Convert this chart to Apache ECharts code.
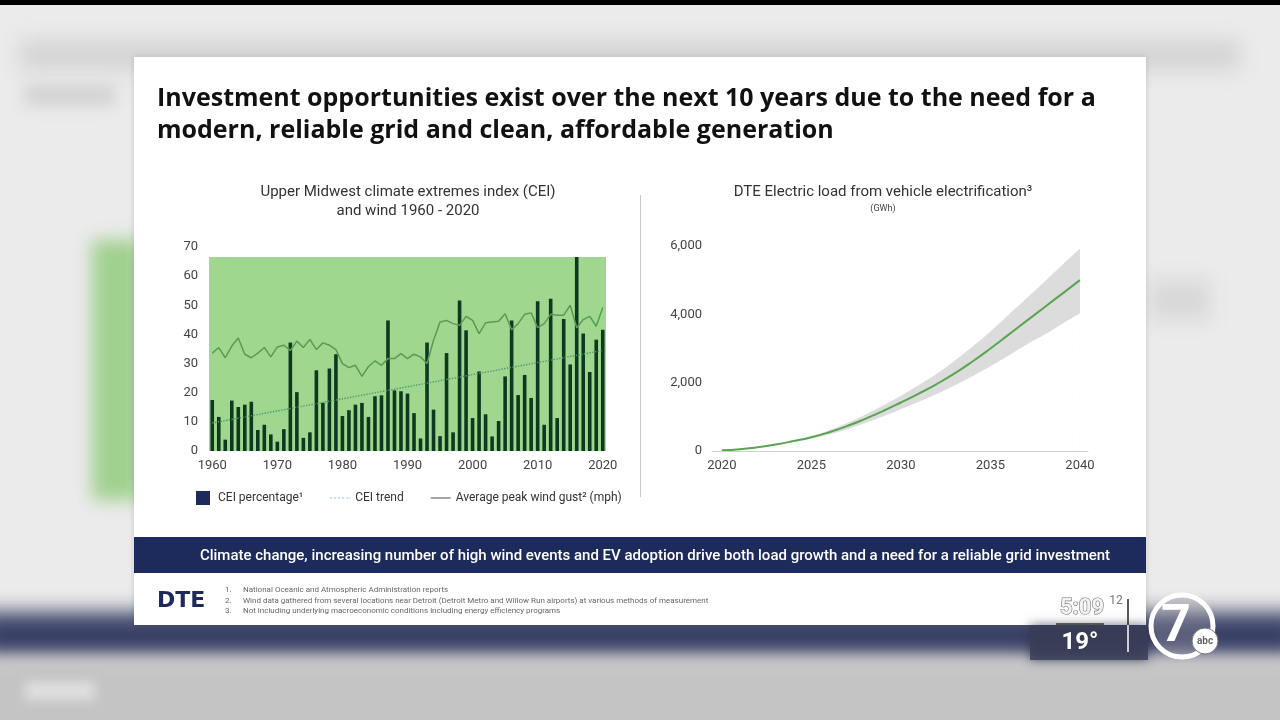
<!DOCTYPE html>
<html><head><meta charset="utf-8">
<script src="https://cdn.jsdelivr.net/npm/echarts@6/dist/echarts.min.js"></script>
<style>
html,body{margin:0;padding:0;width:1280px;height:720px;overflow:hidden;background:#ebebeb;}
.bl{position:absolute;}
#chart{position:absolute;left:0;top:0;width:1280px;height:720px;}
</style></head><body>
<div class="bl" style="left:20px;top:40px;width:1220px;height:30px;background:#d4d4d4;filter:blur(10px);"></div>
<div class="bl" style="left:25px;top:85px;width:90px;height:20px;background:#d0d0d0;filter:blur(8px);"></div>
<div class="bl" style="left:92px;top:240px;width:50px;height:260px;background:#9fd08e;filter:blur(9px);"></div>
<div class="bl" style="left:1150px;top:280px;width:60px;height:40px;background:#d8d8d8;filter:blur(10px);"></div>
<div class="bl" style="left:-20px;top:612px;width:1320px;height:46px;background:#3a4166;filter:blur(10px);"></div>
<div class="bl" style="left:-20px;top:658px;width:1320px;height:80px;background:#c4c4c4;filter:blur(8px);"></div>
<div class="bl" style="left:25px;top:682px;width:70px;height:18px;background:#e0e0e0;filter:blur(6px);"></div>
<div class="bl" style="left:0;top:0;width:1280px;height:5px;background:#000;"></div>
<div id="chart"></div>
<script>
// ---------- Left chart data ----------
const ceiYears = ['1960','1961','1962','1963','1964','1965','1966','1967','1968','1969',
  '1970','1971','1972','1973','1974','1975','1976','1977','1978','1979',
  '1980','1981','1982','1983','1984','1985','1986','1987','1988','1989',
  '1990','1991','1992','1993','1994','1995','1996','1997','1998','1999',
  '2000','2001','2002','2003','2004','2005','2006','2007','2008','2009',
  '2010','2011','2012','2013','2014','2015','2016','2017','2018','2019','2020'];
const ceiPercentage = [17.5,11.7,3.9,17.3,15.1,15.9,16.9,7.2,9.0,5.7,
  3.2,7.5,37.2,20.2,4.5,6.4,27.7,16.5,28.3,33.2,
  12.0,14.0,15.9,16.5,11.7,18.8,19.1,44.8,20.8,20.5,
  19.7,13.0,4.3,37.2,14.2,5.1,33.6,6.4,51.6,41.4,
  11.3,27.3,12.6,5.0,10.3,25.6,44.8,19.2,26.1,18.2,
  51.4,9.0,52.2,11.3,45.3,29.7,66.6,40.3,27.1,38.2,41.6];
const windGust = [33.6,35.5,32.0,36.0,38.8,33.2,32.0,33.6,35.5,32.3,
  35.7,36.3,34.5,37.7,35.5,38.3,34.8,37.1,36.3,34.8,
  30.0,28.6,29.4,25.6,29.0,30.9,29.4,31.7,31.7,33.4,
  31.7,33.2,32.3,30.0,38.0,44.3,44.8,43.7,43.1,46.2,
  44.8,40.3,44.0,44.3,44.5,47.1,41.6,43.7,46.9,47.4,
  42.3,43.7,46.9,46.6,46.6,50.0,42.3,45.1,46.2,42.8,49.2];
const ceiTrendStart = 9.6;   // 1960
const ceiTrendEnd = 34.5;    // 2020
const plotAreaTop = 66.6;
const ceiTicks = [0,10,20,30,40,50,60,70];

// ---------- Right chart data ----------
const evYears = [2020,2021,2022,2023,2024,2025,2026,2027,2028,2029,2030,2031,2032,2033,2034,2035,2036,2037,2038,2039,2040];
const evLoad  = [20,50,110,190,290,400,550,730,940,1170,1420,1680,1960,2270,2620,3000,3400,3800,4200,4600,5000];
const evUpper = [20,55,120,205,315,440,610,820,1060,1330,1620,1930,2260,2640,3060,3500,3980,4460,4950,5440,5930];
const evLower = [20,45,100,175,265,360,490,640,820,1010,1220,1440,1670,1920,2190,2480,2790,3110,3400,3720,4030];
const evTicksX = [2020,2025,2030,2035,2040];

const FONT = 'Roboto, "Liberation Sans", sans-serif';
const TFONT = '"Open Sans", Roboto, sans-serif';
const chart = echarts.init(document.getElementById('chart'), null, {renderer:'canvas'});

const upperPts = evUpper.map((v,i)=>[evYears[i], v]);
const lowerPts = evLower.map((v,i)=>[evYears[i], v]);
const loadLine = evLoad.map((v,i)=>[evYears[i], v]);

const option = {
  backgroundColor: 'transparent',
  animation: false,
  textStyle: {fontFamily: FONT},
  grid: [
    {left: 209, top: 247, width: 397, height: 204},
    {left: 712, top: 246, width: 376, height: 205}
  ],
  xAxis: [
    {type:'category', gridIndex:0, data: ceiYears, boundaryGap: true,
     axisLine:{show:false}, axisTick:{show:false},
     axisLabel:{interval:9, color:'#444', fontSize:13, margin:8, fontFamily:FONT}},
    {type:'value', gridIndex:1, min:2019.45, max:2040.45, z: 10,
     axisLine:{show:true, lineStyle:{color:'#cfcfcf', width:1}}, axisTick:{show:false},
     splitLine:{show:false},
     axisLabel:{customValues: evTicksX, color:'#444', fontSize:13, margin:8, fontFamily:FONT,
       formatter: v => String(Math.round(v))}}
  ],
  yAxis: [
    {type:'value', gridIndex:0, min:ceiTicks[0], max:ceiTicks[ceiTicks.length-1], interval:10,
     axisLine:{show:false}, axisTick:{show:false}, splitLine:{show:false},
     axisLabel:{color:'#444', fontSize:13, margin:11, fontFamily:FONT}},
    {type:'value', gridIndex:1, min:0, max:6000, interval:2000,
     axisLine:{show:false}, axisTick:{show:false}, splitLine:{show:false},
     axisLabel:{color:'#444', fontSize:13, margin:10, fontFamily:FONT,
       formatter: v => v.toLocaleString('en-US')}}
  ],
  legend: {
    left: 191, top: 486, itemGap: 27, itemWidth: 20, itemHeight: 14,
    textStyle: {fontSize: 12, color: '#333', fontFamily: FONT},
    selectedMode: false,
    data: [
      {name: 'CEI percentage¹', icon: 'path://M0,0H10V10H0Z', itemStyle: {color: '#1f2a5c'}},
      {name: 'CEI trend', icon: 'path://M0,4H2V5H0Z M4,4H6V5H4Z M8,4H10V5H8Z M12,4H14V5H12Z M16,4H18V5H16Z M19,4H20V5H19Z', itemStyle:{color:'#8fbfd6'}},
      {name: 'Average peak wind gust² (mph)', icon: 'path://M0,4H20V5.3H0Z', itemStyle:{color:'#777'}}
    ]
  },
  series: [
    {name: 'CEI percentage¹', type:'bar', xAxisIndex:0, yAxisIndex:0, data: ceiPercentage,
     barWidth: 3.6, itemStyle:{color:'#0d3a1e'}, z: 3,
     markArea: {silent:true, itemStyle:{color:'#9fd78f', opacity:1},
       data: [[{yAxis: 0}, {yAxis: plotAreaTop}]]}},
    {name: 'CEI trend', type:'line', xAxisIndex:0, yAxisIndex:0,
     data: [[ceiYears[0], ceiTrendStart], [ceiYears[ceiYears.length-1], ceiTrendEnd]],
     symbol:'none', lineStyle:{color:'#4f9870', width:1.4, type:'dotted'}, z: 4},
    {name: 'Average peak wind gust² (mph)', type:'line', xAxisIndex:0, yAxisIndex:0,
     data: windGust, symbol:'none', lineStyle:{color:'#5a9a52', width:1.5}, z: 5},
    {name: 'EV upper', type:'line', xAxisIndex:1, yAxisIndex:1, data: upperPts,
     smooth:true, symbol:'none', lineStyle:{width:0, opacity:0}, areaStyle:{color:'#dcdcdc', opacity:1}, z: 2},
    {name: 'EV lower', type:'line', xAxisIndex:1, yAxisIndex:1, data: lowerPts,
     smooth:true, symbol:'none', lineStyle:{width:0, opacity:0}, areaStyle:{color:'#ffffff', opacity:1}, z: 3},
    {name: 'EV load', type:'line', xAxisIndex:1, yAxisIndex:1, data: loadLine,
     smooth:true, symbol:'none', lineStyle:{color:'#5aa552', width:2}, z: 5}
  ],
  graphic: [
    {type:'rect', z:-5, shape:{x:134, y:57, width:1012, height:568}, style:{fill:'#ffffff', shadowBlur:6, shadowColor:'rgba(0,0,0,0.15)'}},
    {type:'text', z:1, style:{x:157, y:99, text:'Investment opportunities exist over the next 10 years due to the need for a', font:'bold 25px '+TFONT, fill:'#111', verticalAlign:'middle'}},
    {type:'text', z:1, style:{x:157, y:131, text:'modern, reliable grid and clean, affordable generation', font:'bold 25px '+TFONT, fill:'#111', verticalAlign:'middle'}},
    {type:'text', z:1, style:{x:408, y:192, text:'Upper Midwest climate extremes index (CEI)', font:'15px '+FONT, fill:'#333', align:'center', verticalAlign:'middle'}},
    {type:'text', z:1, style:{x:408, y:211, text:'and wind 1960 - 2020', font:'15px '+FONT, fill:'#333', align:'center', verticalAlign:'middle'}},
    {type:'text', z:1, style:{x:883, y:192, text:'DTE Electric load from vehicle electrification³', font:'15px '+FONT, fill:'#333', align:'center', verticalAlign:'middle'}},
    {type:'text', z:1, style:{x:883, y:209, text:'(GWh)', font:'9px '+FONT, fill:'#444', align:'center', verticalAlign:'middle'}},
    {type:'line', z:1, shape:{x1:640.5, y1:195, x2:640.5, y2:497}, style:{stroke:'#c8c8c8', lineWidth:1}},
    {type:'rect', z:1, shape:{x:134, y:537, width:1012, height:36}, style:{fill:'#1c2a5c'}},
    {type:'text', z:2, style:{x:655, y:556, text:'Climate change, increasing number of high wind events and EV adoption drive both load growth and a need for a reliable grid investment', font:'500 15px '+FONT, fill:'#ffffff', align:'center', verticalAlign:'middle'}},
    {type:'text', z:1, style:{x:157, y:601, text:'DTE', font:'bold 22px "DejaVu Sans", sans-serif', fill:'#1c2a5c', verticalAlign:'middle'}},
    {type:'text', z:1, style:{x:225, y:590, text:'1.', font:'8px '+FONT, fill:'#666', verticalAlign:'middle'}},
    {type:'text', z:1, style:{x:225, y:600.5, text:'2.', font:'8px '+FONT, fill:'#666', verticalAlign:'middle'}},
    {type:'text', z:1, style:{x:225, y:611, text:'3.', font:'8px '+FONT, fill:'#666', verticalAlign:'middle'}},
    {type:'text', z:1, style:{x:243, y:590, text:'National Oceanic and Atmospheric Administration reports', font:'8px '+FONT, fill:'#666', verticalAlign:'middle'}},
    {type:'text', z:1, style:{x:243, y:600.5, text:'Wind data gathered from several locations near Detroit (Detroit Metro and Willow Run airports) at various methods of measurement', font:'8px '+FONT, fill:'#666', verticalAlign:'middle'}},
    {type:'text', z:1, style:{x:243, y:611, text:'Not including underlying macroeconomic conditions including energy efficiency programs', font:'8px '+FONT, fill:'#666', verticalAlign:'middle'}},
    // TV overlay
    {type:'rect', z:50, shape:{x:1030, y:625, width:118, height:35}, style:{fill:'rgba(58,62,88,0.85)', shadowBlur:10, shadowColor:'rgba(40,44,70,0.8)'}},
    {type:'text', z:60, style:{x:1082, y:608, text:'5:09', font:'bold 22px '+FONT, fill:'#f2f2f2', stroke:'#777', lineWidth:1.2, align:'center', verticalAlign:'middle'}},
    {type:'text', z:60, style:{x:1116, y:601, text:'12', font:'12px '+FONT, fill:'#777', align:'center', verticalAlign:'middle'}},
    {type:'line', z:60, shape:{x1:1056, y1:624, x2:1104, y2:624}, style:{stroke:'#333', lineWidth:1.5}},
    {type:'text', z:60, style:{x:1080, y:643, text:'19°', font:'bold 24px '+FONT, fill:'#ffffff', align:'center', verticalAlign:'middle'}},
    {type:'line', z:60, shape:{x1:1128, y1:599, x2:1128, y2:625}, style:{stroke:'#222', lineWidth:1.5}},
    {type:'line', z:60, shape:{x1:1128, y1:625, x2:1128, y2:652}, style:{stroke:'#fff', lineWidth:1.5}},
    {type:'circle', z:60, shape:{cx:1182, cy:626, r:31}, style:{fill:'rgba(150,150,160,0.35)', stroke:'#ffffff', lineWidth:5}},
    {type:'text', z:61, style:{x:1176, y:628, text:'7', font:'bold 52px '+FONT, fill:'#ffffff', align:'center', verticalAlign:'middle'}},
    {type:'circle', z:62, shape:{cx:1205, cy:641, r:13}, style:{fill:'#ffffff', stroke:'#777', lineWidth:1}},
    {type:'text', z:63, style:{x:1205, y:641, text:'abc', font:'bold 10px '+FONT, fill:'#666', align:'center', verticalAlign:'middle'}}
  ]
};
chart.setOption(option);
</script>
</body></html>
